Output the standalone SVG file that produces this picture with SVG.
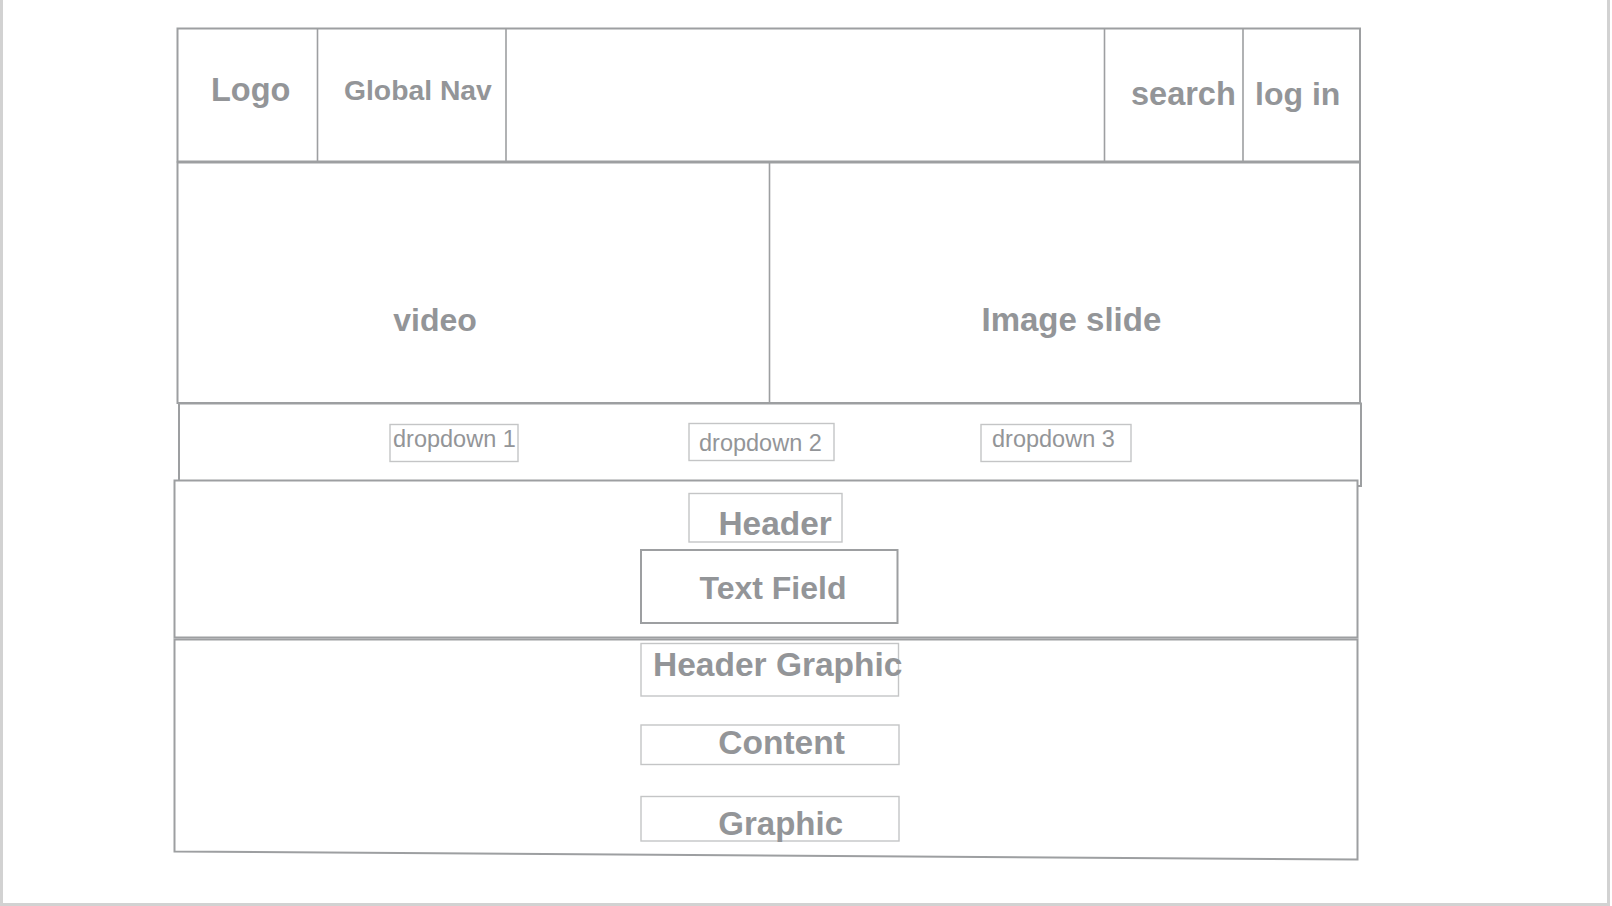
<svg xmlns="http://www.w3.org/2000/svg" width="1612" height="906" viewBox="0 0 1612 906">
<style>
.frame{fill:none;stroke:#d2d2d2;stroke-width:3}
.sec{fill:#fff;stroke:#9d9fa1;stroke-width:2}
.div{stroke:#9d9fa1;stroke-width:1.6;fill:none}
.box{fill:#fff;stroke:#c4c5c6;stroke-width:1.4}
.boxd{fill:#fff;stroke:#9d9fa1;stroke-width:2}
.lbl{font-family:"Liberation Sans",Arial,sans-serif;font-weight:bold;fill:#939598}
.dd{font-family:"Liberation Sans",Arial,sans-serif;font-size:23.5px;fill:#939598}
</style>
<rect width="1612" height="906" fill="#fff"/>
<g id="page">
<path class="frame" d="M1.5,-2 V904.5 H1608.5 V-2"/>
</g>
<g id="header">
<rect class="sec" x="177.5" y="28.5" width="1182.5" height="133"/>
<line class="div" x1="317.5" y1="28.5" x2="317.5" y2="161.5"/>
<line class="div" x1="506" y1="28.5" x2="506" y2="161.5"/>
<line class="div" x1="1104.5" y1="28.5" x2="1104.5" y2="161.5"/>
<line class="div" x1="1243" y1="28.5" x2="1243" y2="161.5"/>
<text class="lbl" x="211" y="101" font-size="32.5">Logo</text>
<text class="lbl" x="344" y="100" font-size="28.3">Global Nav</text>
<text class="lbl" x="1131" y="104.5" font-size="32.5">search</text>
<text class="lbl" x="1255" y="104.5" font-size="32">log in</text>
</g>
<g id="hero">
<rect class="sec" x="177.5" y="162.5" width="1182.5" height="240.5"/>
<line class="div" x1="769.5" y1="162.5" x2="769.5" y2="403"/>
<text class="lbl" x="393.3" y="330.5" font-size="32">video</text>
<text class="lbl" x="981.5" y="330.5" font-size="33">Image slide</text>
</g>
<g id="dropdown-row">
<rect class="sec" x="179" y="403.5" width="1182" height="82.5"/>
</g>
<g id="dropdown1">
<rect class="box" x="390" y="424.5" width="128" height="37"/>
<text class="dd" x="393" y="447">dropdown 1</text>
</g>
<g id="dropdown2">
<rect class="box" x="689" y="423.5" width="145" height="37"/>
<text class="dd" x="699" y="451">dropdown 2</text>
</g>
<g id="dropdown3">
<rect class="box" x="981" y="424.5" width="150" height="37"/>
<text class="dd" x="992" y="447">dropdown 3</text>
</g>
<g id="header-section">
<rect class="sec" x="174.5" y="480.5" width="1183" height="157"/>
</g>
<g id="content-section">
<path class="sec" d="M174.5,639.5 H1357.5 V859.5 L174.5,851.5 Z"/>
</g>
<g id="header-box">
<rect class="box" x="689" y="493.5" width="153" height="48.5"/>
<text class="lbl" x="718.5" y="535" font-size="33.4">Header</text>
</g>
<g id="text-field">
<rect class="boxd" x="641" y="550" width="256.5" height="73"/>
<text class="lbl" x="699.5" y="599.3" font-size="32">Text Field</text>
</g>
<g id="header-graphic">
<rect class="box" x="641" y="643.5" width="257.5" height="52.5"/>
<text class="lbl" x="653" y="676" font-size="33.5">Header Graphic</text>
</g>
<g id="content">
<rect class="box" x="641" y="725" width="258" height="39.5"/>
<text class="lbl" x="718.3" y="753.8" font-size="33.5">Content</text>
</g>
<g id="graphic">
<rect class="box" x="641" y="796.5" width="258" height="44.5"/>
<text class="lbl" x="718.3" y="835" font-size="33">Graphic</text>
</g>
<g id="connectors"/>
</svg>
